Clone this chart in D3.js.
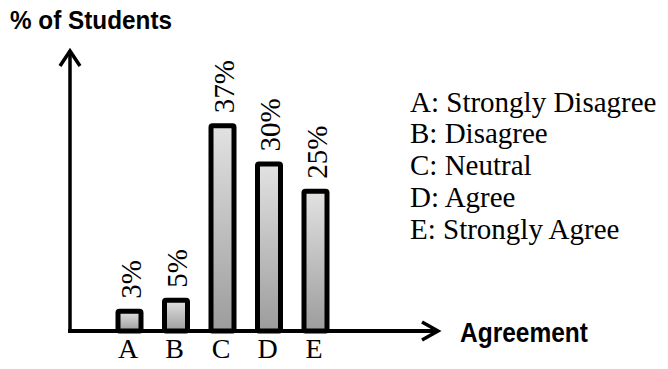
<!DOCTYPE html>
<html>
<head>
<meta charset="utf-8">
<script src="https://cdn.jsdelivr.net/npm/d3@7"></script>
<style>
  html, body { margin: 0; padding: 0; background: #fff; }
  svg { display: block; }
  .serif { font-family: "Liberation Serif", "Times New Roman", Times, "DejaVu Serif", "Noto Serif", serif; }
  .sansb { font-family: "Liberation Sans", Arial, Helvetica, sans-serif; font-weight: bold; }
</style>
</head>
<body>
<svg id="chart" width="668" height="369"></svg>
<script>
const categories = ["A", "B", "C", "D", "E"];
const values = [3, 5, 37, 30, 25];
const valueLabels = ["3%", "5%", "37%", "30%", "25%"];
const legendItems = ["A: Strongly Disagree", "B: Disagree", "C: Neutral", "D: Agree", "E: Strongly Agree"];
const yTitle = "% of Students";
const xTitle = "Agreement";

const svg = d3.select("#chart");
const baseY = 331;

const x = d3.scalePoint().domain(categories).range([129.5, 315.5]);
const y = d3.scaleLinear().domain([0, 40]).range([325, 107]);

const defs = svg.append("defs");
const grad = defs.append("linearGradient").attr("id", "barGrad")
  .attr("x1", 0).attr("y1", 0).attr("x2", 0).attr("y2", 1);
grad.append("stop").attr("offset", "0%").attr("stop-color", "#e2e2e2");
grad.append("stop").attr("offset", "100%").attr("stop-color", "#9c9c9c");

// bars
const barW = 23, sw = 5;
svg.append("g").selectAll("rect").data(values).join("rect")
  .attr("x", (d, i) => x(categories[i]) - barW / 2)
  .attr("y", d => y(d) + sw / 2)
  .attr("width", barW)
  .attr("height", d => baseY - (y(d) + sw / 2))
  .attr("rx", 1.5)
  .attr("fill", "url(#barGrad)")
  .attr("stroke", "#000")
  .attr("stroke-width", sw);

// value labels
svg.append("g").selectAll("text").data(values).join("text")
  .attr("class", "serif")
  .attr("transform", (d, i) => `translate(${x(categories[i]) + 1},${y(d) - 10}) rotate(-90)`)
  .attr("dy", "0.35em")
  .attr("text-anchor", "start")
  .attr("font-size", 29)
  .attr("fill", "#000")
  .text((d, i) => valueLabels[i]);

// axes arrows
const axes = svg.append("g").attr("fill", "none").attr("stroke", "#000");
axes.append("line").attr("x1", 70).attr("y1", baseY + 2).attr("x2", 70).attr("y2", 51)
  .attr("stroke-width", 3.5);
axes.append("path").attr("d", "M60,66 L70,51 L80,66").attr("stroke-width", 3.5)
  .attr("stroke-linejoin", "miter");
axes.append("line").attr("x1", 68).attr("y1", baseY).attr("x2", 437).attr("y2", baseY)
  .attr("stroke-width", 4);
axes.append("path").attr("d", "M422,322 L438,331 L422,340").attr("stroke-width", 3.5)
  .attr("stroke-linejoin", "miter");

// category labels via axis
const xAxis = svg.append("g").attr("transform", `translate(-2,${baseY})`)
  .call(d3.axisBottom(x).tickSize(0).tickPadding(7));
xAxis.select(".domain").remove();
xAxis.attr("font-family", null).attr("font-size", null);
xAxis.selectAll("text")
  .attr("class", "serif")
  .attr("font-size", 28)
  .attr("fill", "#000")
  .attr("dy", "0.71em");

// titles
svg.append("text").attr("class", "sansb").attr("x", 10).attr("y", 28.5)
  .attr("textLength", 162).attr("lengthAdjust", "spacingAndGlyphs")
  .attr("font-size", 26.5)
  .attr("fill", "#000").text(yTitle);
svg.append("text").attr("class", "sansb").attr("x", 460).attr("y", 342)
  .attr("textLength", 128).attr("lengthAdjust", "spacingAndGlyphs")
  .attr("font-size", 28)
  .attr("fill", "#000").text(xTitle);

// legend
svg.append("g").selectAll("text").data(legendItems).join("text")
  .attr("class", "serif")
  .attr("x", 410)
  .attr("y", (d, i) => 111.5 + i * 31.9)
  .attr("font-size", 29)
  .attr("fill", "#000")
  .text(d => d);
</script>
</body>
</html>
